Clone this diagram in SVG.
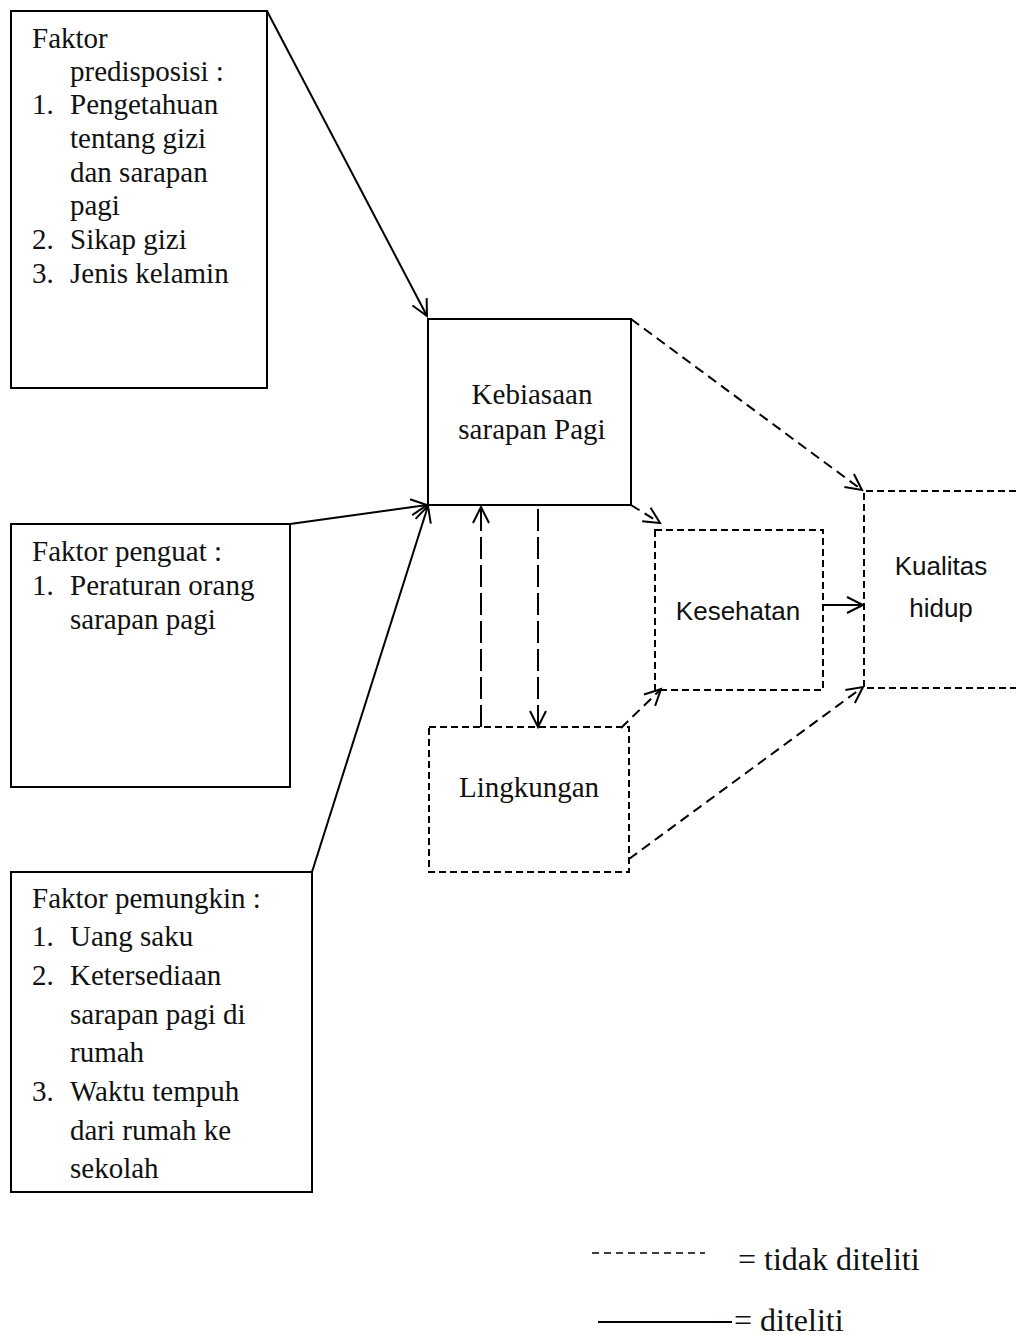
<svg xmlns="http://www.w3.org/2000/svg" width="1016" height="1338" viewBox="0 0 1016 1338">
<style>
.box{fill:#fff;stroke:#000;stroke-width:2}
.dbox{fill:none;stroke:#000;stroke-width:2;stroke-dasharray:7 4}
.t{font-family:"Liberation Serif","Times New Roman",serif;font-size:29px;fill:#111}
.s{font-family:"Liberation Sans",Arial,sans-serif;font-size:26px;fill:#111}
.c{fill:none;stroke:#000;stroke-width:2}
.cd{fill:none;stroke:#000;stroke-width:2;stroke-dasharray:10 6}
.cl{fill:none;stroke:#000;stroke-width:2;stroke-dasharray:22 6}
.lg{font-family:"Liberation Serif","Times New Roman",serif;font-size:32px;fill:#111}
</style>
<defs>
<marker id="ah" markerUnits="userSpaceOnUse" markerWidth="22" markerHeight="22" refX="18" refY="10" orient="auto" overflow="visible">
<path d="M2,2 L18,10 L2,18" fill="none" stroke="#000" stroke-width="2" stroke-dasharray="none"/>
</marker>
</defs>
<g id="faktor-predisposisi">
<rect class="box" x="11" y="11" width="256" height="377"/>
<text class="t" x="32" y="48">Faktor</text>
<text class="t" x="70" y="81">predisposisi :</text>
<text class="t" x="32" y="114">1.</text><text class="t" x="70" y="114">Pengetahuan</text>
<text class="t" x="70" y="148">tentang gizi</text>
<text class="t" x="70" y="182">dan sarapan</text>
<text class="t" x="70" y="215">pagi</text>
<text class="t" x="32" y="249">2.</text><text class="t" x="70" y="249">Sikap gizi</text>
<text class="t" x="32" y="283">3.</text><text class="t" x="70" y="283">Jenis kelamin</text>
</g>
<g id="faktor-penguat">
<rect class="box" x="11" y="524" width="279" height="263"/>
<text class="t" x="32" y="561">Faktor penguat :</text>
<text class="t" x="32" y="595">1.</text><text class="t" x="70" y="595">Peraturan orang</text>
<text class="t" x="70" y="629">sarapan pagi</text>
</g>
<g id="faktor-pemungkin">
<rect class="box" x="11" y="872" width="301" height="320"/>
<text class="t" x="32" y="908">Faktor pemungkin :</text>
<text class="t" x="32" y="946">1.</text><text class="t" x="70" y="946">Uang saku</text>
<text class="t" x="32" y="985">2.</text><text class="t" x="70" y="985">Ketersediaan</text>
<text class="t" x="70" y="1024">sarapan pagi di</text>
<text class="t" x="70" y="1062">rumah</text>
<text class="t" x="32" y="1101">3.</text><text class="t" x="70" y="1101">Waktu tempuh</text>
<text class="t" x="70" y="1140">dari rumah ke</text>
<text class="t" x="70" y="1178">sekolah</text>
</g>
<g id="kebiasaan">
<rect class="box" x="428" y="319" width="203" height="186"/>
<text class="t" x="532" y="404" text-anchor="middle">Kebiasaan</text>
<text class="t" x="532" y="439" text-anchor="middle">sarapan Pagi</text>
</g>
<g id="kesehatan">
<rect class="dbox" x="655" y="530" width="168" height="160"/>
<text class="s" x="738" y="620" text-anchor="middle">Kesehatan</text>
</g>
<g id="kualitas-hidup">
<path class="dbox" d="M1016,491 H864 V688 H1016"/>
<text class="s" x="941" y="575" text-anchor="middle">Kualitas</text>
<text class="s" x="941" y="617" text-anchor="middle">hidup</text>
</g>
<g id="lingkungan">
<rect class="dbox" x="429" y="727" width="200" height="145"/>
<text class="t" x="529" y="797" text-anchor="middle">Lingkungan</text>
</g>
<g id="connectors">
<path class="c" d="M267,11 L427,316" marker-end="url(#ah)"/>
<path class="c" d="M290,524 L427,505" marker-end="url(#ah)"/>
<path class="c" d="M312,872 L428,506" marker-end="url(#ah)"/>
<path class="cd" d="M631,319 L862,490" marker-end="url(#ah)"/>
<path class="cd" d="M631,505 L660,523" marker-end="url(#ah)"/>
<path class="c" d="M822,605 L863,605" marker-end="url(#ah)"/>
<path class="cd" d="M621,728 L661,689" marker-end="url(#ah)"/>
<path class="cd" d="M629,859 L863,687" marker-end="url(#ah)"/>
<path class="cl" d="M481,727 L481,507" marker-end="url(#ah)"/>
<path class="cl" d="M538,509 L538,727" marker-end="url(#ah)"/>
</g>
<g id="legend">
<line x1="592" y1="1253" x2="705" y2="1253" stroke="#000" stroke-width="1.5" stroke-dasharray="7 5"/>
<text class="lg" x="738" y="1270">= tidak diteliti</text>
<line x1="598" y1="1322" x2="732" y2="1322" stroke="#000" stroke-width="2"/>
<text class="lg" x="734" y="1331">= diteliti</text>
</g>
</svg>
